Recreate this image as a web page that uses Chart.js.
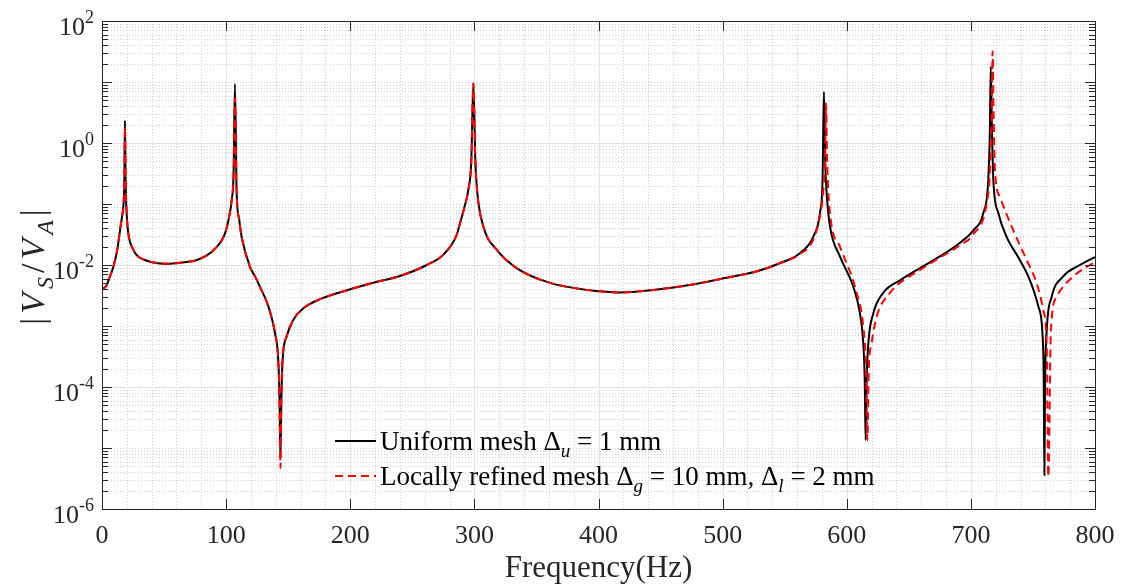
<!DOCTYPE html>
<html>
<head>
<meta charset="utf-8">
<script src="https://cdn.jsdelivr.net/npm/chart.js@4.4.1/dist/chart.umd.min.js"></script>
<style>
  body { margin: 0; background: #fff; }
  canvas { display: block; }
</style>
</head>
<body>
<canvas id="fr" width="1124" height="584"></canvas>
<script>
// Uniform mesh (black solid), frequency in Hz and |Vs/Va|
const freqUniform = [0, 3.8, 6.4, 9.1, 12.3, 14.5, 16.3, 17.2, 18, 18.5, 19, 20, 21.2, 25.2, 27.9, 33.3, 45, 55, 65, 77.6, 90.2,
  99.1, 102.5, 104.5, 106, 107.1, 108.5, 110.5, 112.5, 119.2, 123.3, 127.2, 134, 139.4, 142, 143, 143.7, 144.5, 145.5, 148.8,
  154.1, 162.2, 175.6, 200, 220, 240, 261.6, 275, 285.7, 288.4, 292, 295.1, 297.5, 299.2, 300.8, 302.4, 307.2, 318,
  334, 361, 401, 417, 444, 476, 500, 527, 546, 562, 573, 578.4, 580.5, 581.6, 582.8, 583.8, 586.5, 594.5, 605.3,
  610.6, 613.3, 614.5, 615.2, 616, 617.4, 621.4, 629.4, 642.9, 659, 675, 691, 702, 710, 714, 715.3, 716, 717, 718.1,
  722.1, 728.8, 739.5, 747.6, 754.3, 757.8, 758.7, 759.2, 759.8, 761.1, 765.1, 774.4, 787.9, 800];
const magUniform = [3.9e-3, 4.7e-3, 6.5e-3, 9.3e-3, 1.78e-2, 3.7e-2, 6.5e-2, 9.1e-2, 0.25, 2.34, 0.25, 6.3e-2, 3.3e-2,
  1.78e-2, 1.45e-2, 1.23e-2, 1.07e-2, 1.05e-2, 1.1e-2, 1.23e-2, 1.78e-2,
  3.3e-2, 6.3e-2, 0.117, 0.316, 9.3, 0.151, 5.6e-2, 2.9e-2, 9.3e-3, 6.5e-3, 4.4e-3, 2.1e-3, 7.6e-4, 2.75e-4, 6.3e-5, 6.8e-6,
  6.3e-5, 2.75e-4, 6.8e-4,
  1.26e-3, 1.95e-3, 2.75e-3, 4.0e-3, 5.2e-3, 6.6e-3, 1.0e-2, 1.48e-2, 3.1e-2, 4.8e-2, 8.9e-2, 0.17, 0.5, 9.5, 0.5,
  0.151, 4.3e-2, 1.78e-2,
  8.9e-3, 5.1e-3, 3.7e-3, 3.55e-3, 3.9e-3, 4.8e-3, 6.0e-3, 7.8e-3, 1.07e-2, 1.55e-2, 2.9e-2, 7.1e-2, 0.25, 6.9, 0.4,
  0.151, 4.3e-2, 1.38e-2, 4.4e-3,
  1.62e-3, 5.2e-4, 1.26e-4, 1.35e-5, 1.26e-4, 5.2e-4, 1.62e-3, 3.5e-3, 5.6e-3, 8.9e-3, 1.38e-2, 2.3e-2, 3.7e-2, 7.1e-2,
  0.245, 1.58, 17.8, 1.58, 0.245,
  7.1e-2, 2.9e-2, 1.2e-2, 5.6e-3, 2.1e-3, 6.8e-4, 1.26e-4, 3.6e-6, 1.26e-4, 8.5e-4, 3.0e-3, 6.5e-3, 1.0e-2, 1.35e-2];

// Locally refined mesh (red dashed)
const freqRefined = [0, 3.8, 6.4, 9.1, 12.3, 14.5, 16.3, 17.2, 18, 18.5, 19, 20, 21.2, 25.2, 27.9, 33.3, 45, 55, 65, 77.6, 90.2,
  99.1, 102.5, 104.5, 106, 107.1, 108.5, 110.5, 112.5, 119.2, 123.3, 127.2, 134, 139.4, 142, 143, 143.8, 144.5, 145.5, 148.8,
  154.1, 162.2, 175.6, 200, 220, 240, 261.6, 275, 285.7, 288.4, 292, 295.1, 297.5, 299.2, 300.8, 302.4, 307.2, 318,
  334, 361, 401, 417, 444, 476, 500, 527, 546, 562, 573, 578.4, 581, 582.5, 583.3, 584.2, 586.5, 594.5, 608,
  613.3, 615.5, 616.6, 617.8, 620, 624, 634.8, 659, 675, 691, 702, 712.7, 715.4, 716.8, 717.5, 718.3, 719.4,
  723.4, 734.2, 745, 753, 758.4, 761.1, 762.4, 764.5, 769.1, 782.5, 800];
const magRefined = [3.9e-3, 4.7e-3, 6.5e-3, 9.3e-3, 1.78e-2, 3.7e-2, 6.5e-2, 9.1e-2, 0.25, 1.86, 0.25, 6.3e-2, 3.3e-2,
  1.78e-2, 1.45e-2, 1.23e-2, 1.07e-2, 1.05e-2, 1.1e-2, 1.23e-2, 1.78e-2,
  3.3e-2, 6.3e-2, 0.117, 0.316, 5.4, 0.151, 5.6e-2, 2.9e-2, 9.3e-3, 6.5e-3, 4.4e-3, 2.1e-3, 7.6e-4, 2.75e-4, 6.3e-5, 4.7e-6,
  6.3e-5, 2.75e-4, 6.8e-4,
  1.26e-3, 1.95e-3, 2.75e-3, 4.0e-3, 5.2e-3, 6.6e-3, 1.0e-2, 1.48e-2, 3.1e-2, 4.8e-2, 8.9e-2, 0.17, 0.5, 9.5, 0.5,
  0.151, 4.3e-2, 1.78e-2,
  8.9e-3, 5.1e-3, 3.7e-3, 3.55e-3, 3.9e-3, 4.8e-3, 6.0e-3, 7.8e-3, 1.07e-2, 1.5e-2, 2.6e-2, 6.3e-2, 0.158, 0.5, 4.5,
  0.5, 7.1e-2, 2.0e-2, 3.5e-3,
  9.8e-4, 2.0e-4, 1.35e-5, 2.0e-4, 5.2e-4, 1.4e-3, 3.5e-3, 8.3e-3, 1.32e-2, 2.1e-2, 3.2e-2, 0.102, 0.36, 3.0, 32,
  3.0, 0.36,
  0.13, 3.7e-2, 1.2e-2, 5.0e-3, 1.8e-3, 4.6e-4, 3.4e-6, 8.5e-4, 3.0e-3, 6.5e-3, 1.12e-2];

// axis ticks
const xTicks = [0, 100, 200, 300, 400, 500, 600, 700, 800];
const xMinorStep = 20;
const yTickExponents = [-6, -4, -2, 0, 2];

// legend / titles as text runs (sub = subscript, it = italic)
const legendUniform = [{ t: "Uniform mesh \u0394" }, { t: "u", it: true, sub: true }, { t: " = 1 mm" }];
const legendRefined = [{ t: "Locally refined mesh \u0394" }, { t: "g", it: true, sub: true }, { t: " = 10 mm, \u0394" },
  { t: "l", it: true, sub: true }, { t: " = 2 mm" }];
const yTitle = [{ t: "|" }, { t: "V", it: true }, { t: "S", it: true, sub: true }, { t: "/" }, { t: "V", it: true },
  { t: "A", it: true, sub: true }, { t: "|" }];
const xTitle = "Frequency(Hz)";

const SERIF = '"Liberation Serif", "Times New Roman", serif';

function runFont(r, size) {
  let s = r.sub ? Math.round(size * 0.7) : size;
  return (r.it ? "italic " : "") + s + "px " + SERIF;
}

function runsWidth(ctx, runs, size, gap) {
  let w = 0;
  runs.forEach((r) => {
    ctx.font = runFont(r, size);
    w += ctx.measureText(r.t).width + (gap || 0);
  });
  return w;
}

function drawRuns(ctx, runs, x, y, size, gap) {
  runs.forEach((r) => {
    ctx.font = runFont(r, size);
    ctx.fillText(r.t, x, r.sub ? y + size * 0.25 : y);
    x += ctx.measureText(r.t).width + (gap || 0);
  });
}

// grid lines behind the curves
const gridPlugin = {
  id: "grid",
  beforeDatasetsDraw(chart) {
    const { ctx, chartArea, scales } = chart;
    const { left, right, top, bottom } = chartArea;
    const x = scales.x, y = scales.y;
    ctx.save();
    ctx.lineWidth = 1;

    // minor, dotted
    ctx.strokeStyle = "#d2d2d2";
    ctx.setLineDash([1, 2]);
    ctx.beginPath();
    for (let v = x.min; v <= x.max; v += xMinorStep) {
      if (v % 100 === 0) continue;
      let px = Math.round(x.getPixelForValue(v)) + 0.5;
      ctx.moveTo(px, top);
      ctx.lineTo(px, bottom);
    }
    for (let e = -6; e < 2; e++) {
      for (let k = 1; k <= 9; k++) {
        if (k === 1 && yTickExponents.includes(e)) continue;
        let py = Math.round(y.getPixelForValue(k * Math.pow(10, e))) + 0.5;
        ctx.moveTo(left, py);
        ctx.lineTo(right, py);
      }
    }
    ctx.stroke();

    // major, solid
    ctx.setLineDash([]);
    ctx.strokeStyle = "#e2e2e2";
    ctx.beginPath();
    xTicks.forEach((v) => {
      let px = Math.round(x.getPixelForValue(v)) + 0.5;
      ctx.moveTo(px, top);
      ctx.lineTo(px, bottom);
    });
    yTickExponents.forEach((e) => {
      let py = Math.round(y.getPixelForValue(Math.pow(10, e))) + 0.5;
      ctx.moveTo(left, py);
      ctx.lineTo(right, py);
    });
    ctx.stroke();
    ctx.restore();
  },
};

// box, ticks, tick labels, titles and legend
const axesPlugin = {
  id: "axes",
  afterDraw(chart) {
    const { ctx, chartArea, scales } = chart;
    const { left, right, top, bottom } = chartArea;
    const x = scales.x, y = scales.y;
    ctx.save();
    ctx.strokeStyle = "#262626";
    ctx.lineWidth = 1;
    ctx.setLineDash([]);
    ctx.strokeRect(Math.round(left) + 0.5, Math.round(top) + 0.5, Math.round(right - left), Math.round(bottom - top));

    ctx.beginPath();
    xTicks.forEach((v) => {
      let px = Math.round(x.getPixelForValue(v)) + 0.5;
      ctx.moveTo(px, bottom);
      ctx.lineTo(px, bottom - 10);
      ctx.moveTo(px, top);
      ctx.lineTo(px, top + 10);
    });
    for (let e = -6; e < 2; e++) {
      for (let k = 1; k <= 9; k++) {
        let py = Math.round(y.getPixelForValue(k * Math.pow(10, e))) + 0.5;
        let len = k === 1 ? 10 : 6;
        ctx.moveTo(left, py);
        ctx.lineTo(left + len, py);
        ctx.moveTo(right, py);
        ctx.lineTo(right - len, py);
      }
    }
    ctx.stroke();

    // tick labels
    ctx.fillStyle = "#262626";
    ctx.textBaseline = "alphabetic";
    ctx.font = "26px " + SERIF;
    ctx.textAlign = "center";
    xTicks.forEach((v) => {
      ctx.fillText(String(v), x.getPixelForValue(v), bottom + 34);
    });
    ctx.textAlign = "left";
    yTickExponents.forEach((e) => {
      let py = y.getPixelForValue(Math.pow(10, e));
      ctx.font = "18px " + SERIF;
      let expText = String(e);
      let we = ctx.measureText(expText).width;
      ctx.font = "26px " + SERIF;
      let wb = ctx.measureText("10").width;
      let xEnd = left - 8;
      ctx.fillText("10", xEnd - we - wb, py + 14);
      ctx.font = "18px " + SERIF;
      ctx.fillText(expText, xEnd - we, py + 2);
    });

    // axis titles
    ctx.fillStyle = "#262626";
    ctx.font = "31px " + SERIF;
    ctx.textAlign = "center";
    ctx.fillText(xTitle, (left + right) / 2, 577);
    ctx.textAlign = "left";
    ctx.save();
    ctx.translate(33, (top + bottom) / 2);
    ctx.rotate(-Math.PI / 2);
    let wy = runsWidth(ctx, yTitle, 34, 4);
    drawRuns(ctx, yTitle, -wy / 2, 11, 34, 4);
    ctx.restore();

    // legend
    const rows = [
      { runs: legendUniform, ds: chart.data.datasets[1], y: 441 },
      { runs: legendRefined, ds: chart.data.datasets[0], y: 476 },
    ];
    rows.forEach((row) => {
      ctx.strokeStyle = row.ds.borderColor;
      ctx.lineWidth = row.ds.borderWidth;
      ctx.setLineDash(row.ds.borderDash || []);
      ctx.beginPath();
      ctx.moveTo(335, row.y);
      ctx.lineTo(376, row.y);
      ctx.stroke();
      ctx.fillStyle = "#000";
      drawRuns(ctx, row.runs, 380, row.y + 9, 27);
    });
    ctx.restore();
  },
};

const toPoints = (fs, ms) => fs.map((f, i) => ({ x: f, y: ms[i] }));

new Chart(document.getElementById("fr").getContext("2d"), {
  type: "line",
  data: {
    datasets: [
      {
        label: "Locally refined mesh \u0394g = 10 mm, \u0394l = 2 mm",
        data: toPoints(freqRefined, magRefined),
        borderColor: "#ff0000",
        borderWidth: 2,
        borderDash: [8, 5],
        pointRadius: 0,
        cubicInterpolationMode: "monotone",
        fill: false,
        order: 0,
      },
      {
        label: "Uniform mesh \u0394u = 1 mm",
        data: toPoints(freqUniform, magUniform),
        borderColor: "#000000",
        borderWidth: 2,
        pointRadius: 0,
        cubicInterpolationMode: "monotone",
        fill: false,
        order: 1,
      },
    ],
  },
  options: {
    responsive: false,
    animation: false,
    layout: { padding: { left: 102, right: 29, top: 21, bottom: 75 } },
    plugins: { legend: { display: false }, tooltip: { enabled: false } },
    scales: {
      x: { type: "linear", min: 0, max: 800, display: false },
      y: { type: "logarithmic", min: 1e-6, max: 1e2, display: false },
    },
  },
  plugins: [gridPlugin, axesPlugin],
});
</script>
</body>
</html>
